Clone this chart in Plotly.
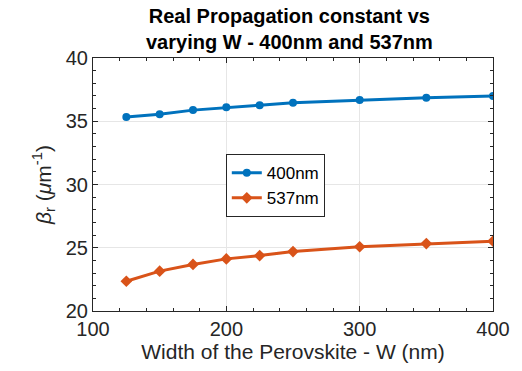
import plotly.graph_objects as go

W = [125, 150, 175, 200, 225, 250, 300, 350, 400]
beta_400 = [35.34, 35.55, 35.88, 36.1, 36.27, 36.46, 36.67, 36.85, 37.0]
beta_537 = [22.35, 23.15, 23.68, 24.12, 24.38, 24.7, 25.08, 25.33, 25.52]

FONT = "Liberation Sans, Arial, Helvetica"

fig = go.Figure()
fig.add_trace(go.Scatter(x=W, y=beta_400, mode="lines+markers", name="400nm",
                         line=dict(color="#0072BD", width=3),
                         marker=dict(symbol="circle", size=8, color="#0072BD")))
fig.add_trace(go.Scatter(x=W, y=beta_537, mode="lines+markers", name="537nm",
                         line=dict(color="#D95319", width=3),
                         marker=dict(symbol="diamond", size=9, color="#D95319")))

axis_common = dict(showline=True, linecolor="#262626", linewidth=1, mirror="ticks",
                   ticks="inside", ticklen=5, tickcolor="#262626",
                   showgrid=True, gridcolor="#E6E6E6", gridwidth=1, zeroline=False,
                   tickfont=dict(family=FONT, size=20, color="#262626"))

fig.update_layout(
    width=522, height=371,
    margin=dict(l=93, r=25, t=58, b=58),
    paper_bgcolor="white", plot_bgcolor="white",
    xaxis=dict(range=[100, 400], tickvals=[100, 200, 300, 400],
               minor=dict(ticks="inside", ticklen=3, dtick=20, tickcolor="#262626", showgrid=False),
               title=dict(text="Width of the Perovskite - W (nm)", standoff=4,
                          font=dict(family=FONT, size=21, color="#262626")),
               **axis_common),
    yaxis=dict(range=[20, 40], tickvals=[20, 25, 30, 35, 40],
               minor=dict(ticks="inside", ticklen=3, dtick=1, tickcolor="#262626", showgrid=False),
               title=dict(text="<i>β</i><sub>r</sub> (<i>μ</i>m<sup>-1</sup>)", standoff=8,
                          font=dict(family=FONT, size=21, color="#262626")),
               **axis_common),
    legend=dict(x=0.332, y=0.62, xanchor="left", yanchor="top",
                bgcolor="white", bordercolor="#262626", borderwidth=1,
                font=dict(family=FONT, size=17, color="black"),
                tracegroupgap=0),
    showlegend=True,
    annotations=[dict(text="<b>Real Propagation constant vs<br>varying W - 400nm and 537nm</b>",
                      xref="paper", yref="paper", x=0.49, y=1.0, xanchor="center", yanchor="bottom",
                      yshift=3, showarrow=False,
                      font=dict(family=FONT, size=20, color="black"))],
)

fig.write_html("out.html")
